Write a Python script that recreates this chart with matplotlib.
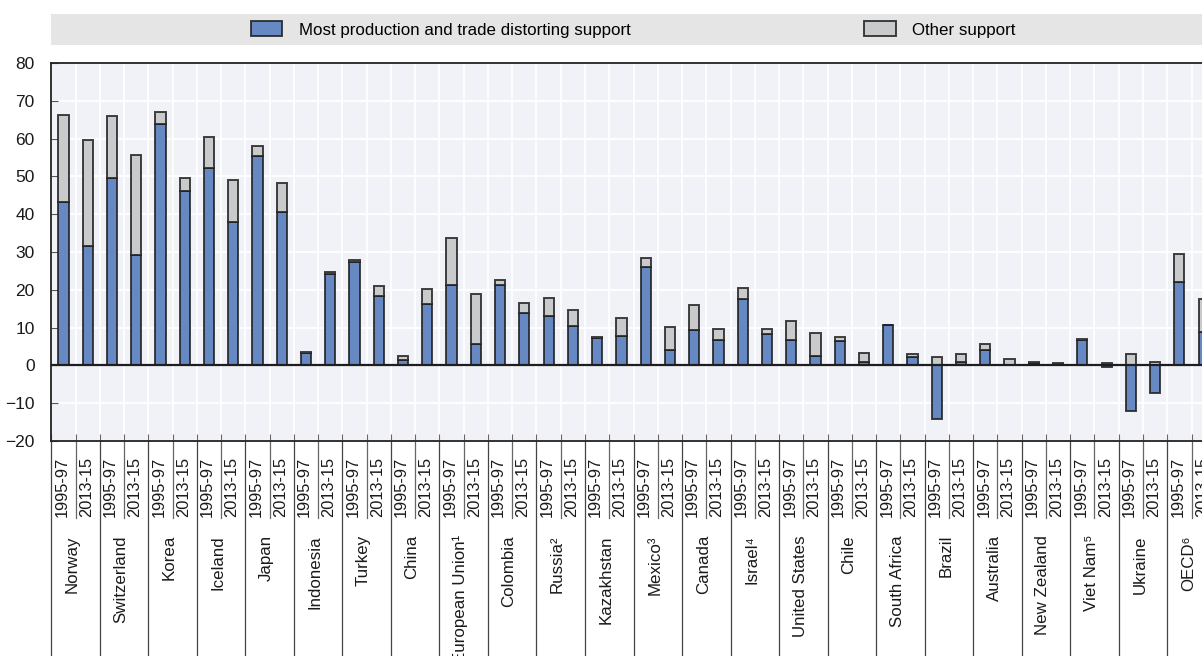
import numpy as np
import matplotlib
matplotlib.use('Agg')
import matplotlib.pyplot as plt
import matplotlib.transforms as mtransforms
from matplotlib.patches import Rectangle

plt.rcParams['font.family'] = ['Liberation Sans', 'DejaVu Sans']
plt.rcParams['font.size'] = 12

# Data (percentage of gross farm receipts)
countries = ['Norway', 'Switzerland', 'Korea', 'Iceland', 'Japan', 'Indonesia',
             'Turkey', 'China', 'European Union\u00b9', 'Colombia', 'Russia\u00b2',
             'Kazakhstan', 'Mexico\u00b3', 'Canada', 'Israel\u2074', 'United States',
             'Chile', 'South Africa', 'Brazil', 'Australia', 'New Zealand',
             'Viet Nam\u2075', 'Ukraine', 'OECD\u2076']
periods = ['1995-97', '2013-15']

mptds_9597 = [43.1, 49.7, 63.8, 52.3, 55.4, 3.3, 27.4, 1.4, 21.4, 21.4, 13.1, 7.3,
              26.0, 9.4, 17.6, 6.6, 6.4, 10.6, -14.2, 4.1, 0.6, 6.8, -12.0, 22.1]
other_9597 = [23.2, 16.4, 3.2, 8.0, 2.6, 0.3, 0.5, 1.1, 12.4, 1.3, 4.6, 0.2,
              2.4, 6.7, 3.0, 5.2, 1.0, 0.2, 2.1, 1.6, 0.3, 0.3, 3.0, 7.5]
mptds_1315 = [31.7, 29.1, 46.2, 37.9, 40.7, 24.3, 18.4, 16.3, 5.6, 13.9, 10.3, 7.8,
              4.1, 6.8, 8.4, 2.6, 0.8, 2.3, 0.8, 0.1, 0.4, -0.3, -7.4, 8.9]
other_1315 = [27.9, 26.5, 3.5, 11.2, 7.5, 0.3, 2.5, 3.8, 13.4, 2.7, 4.3, 4.7,
              6.1, 2.8, 1.1, 6.1, 2.4, 0.7, 2.3, 1.5, 0.2, 0.6, 1.0, 8.7]

legend_labels = ['Most production and trade distorting support', 'Other support']

blue = '#6689c4'
grey = '#c9cacc'
edge = (0.13, 0.13, 0.13, 0.85)
text_col = '#1a1a1a'

# interleave the two periods: slot 2k = 1995-97, slot 2k+1 = 2013-15
n = len(countries)
mptds = np.empty(2 * n)
other = np.empty(2 * n)
mptds[0::2], mptds[1::2] = mptds_9597, mptds_1315
other[0::2], other[1::2] = other_9597, other_1315
x = np.arange(2 * n) + 0.5

fig = plt.figure(figsize=(12.02, 6.56), dpi=100)
W, H = 1202.0, 656.0
slot = 24.26
ax = fig.add_axes([51.3 / W, (H - 441) / H, 48 * slot / W, 378 / H])
ax.set_facecolor('#f1f2f7')

# legend band
fig.patches.append(Rectangle((51 / W, 1 - 45 / H), 1.0, 31 / H, transform=fig.transFigure,
                             facecolor='#e5e5e6', edgecolor='none', zorder=0))

b1 = ax.bar(x, mptds, width=0.42, color=blue, edgecolor=edge, linewidth=1.4,
            zorder=3, label=legend_labels[0])
b2 = ax.bar(x, other, width=0.42, bottom=np.maximum(mptds, 0), color=grey,
            edgecolor=edge, linewidth=1.4, zorder=3, label=legend_labels[1])

ax.set_xlim(0, 2 * n)
ax.set_ylim(-20, 80)
ax.set_yticks(np.arange(-20, 81, 10))
ax.set_xticks(np.arange(0, 2 * n + 1))
ax.set_xticklabels([])
ax.grid(True, color='white', linewidth=1.3, zorder=0)
ax.set_axisbelow(True)
ax.axhline(0, color='#1e1e1e', linewidth=1.6, zorder=4)

ax.tick_params(axis='y', direction='in', length=5, width=0.8, color='#555555',
               pad=12, labelsize=12.5, labelcolor=text_col)
ax.tick_params(axis='x', direction='in', length=5, width=0.8, color='#666666')
for side in ['left', 'top', 'bottom']:
    ax.spines[side].set_color('#222222')
    ax.spines[side].set_linewidth(1.3)
ax.spines['right'].set_visible(False)

# category labels below the axis
trans = mtransforms.blended_transform_factory(ax.transData, ax.transAxes)
for i in range(2 * n):
    ax.text(x[i] - 0.06, -0.042, periods[i % 2], rotation=90, ha='center', va='top',
            fontsize=11.8, color=text_col, transform=trans, clip_on=False)
for k in range(n):
    ax.text(2 * k + 1 - 0.13, -0.249, countries[k], rotation=90, ha='center', va='top',
            fontsize=12.2, color=text_col, transform=trans, clip_on=False)
    ax.plot([2 * k + 1, 2 * k + 1], [0, -0.204], color='#666666', linewidth=0.9,
            transform=trans, clip_on=False)
for k in range(n + 1):
    ax.plot([2 * k, 2 * k], [0, -0.6], color='#444444', linewidth=0.9,
            transform=trans, clip_on=False)

fig.legend(handles=[b1, b2], labels=legend_labels, loc='center', ncol=2,
           bbox_to_anchor=(633 / W, 1 - 29.5 / H), frameon=False, fontsize=12.2,
           handlelength=1.86, handleheight=0.95, handletextpad=0.95,
           columnspacing=13.8, borderpad=0)

fig.savefig('out.png', dpi=100)
